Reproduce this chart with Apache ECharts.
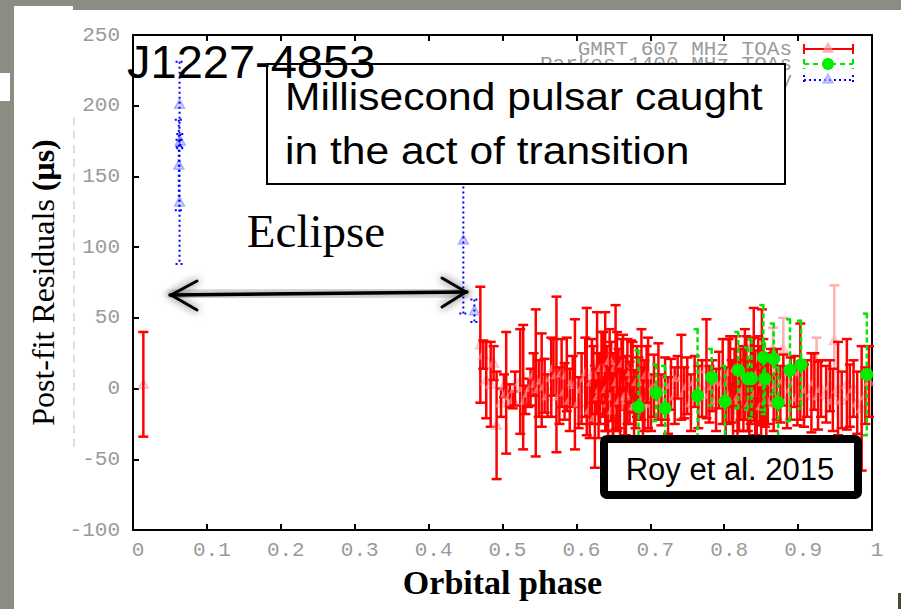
<!DOCTYPE html>
<html>
<head>
<meta charset="utf-8">
<title>J1227-4853 post-fit residuals</title>
<script src="https://cdn.jsdelivr.net/npm/echarts@6/dist/echarts.min.js"></script>
<style>
  html, body { margin: 0; padding: 0; width: 901px; height: 609px; overflow: hidden; background: #8b8d82; }
  #sheet { position: absolute; left: 14px; top: 10px; width: 887px; height: 599px; background: #ffffff; }
  #tab { position: absolute; left: 14px; top: 6px; width: 59px; height: 10px; background: #ffffff; }
  #edge { position: absolute; left: 0; top: 73px; width: 10px; height: 28px; background: #ffffff; }
  #corner { position: absolute; left: 898px; top: 593px; width: 3px; height: 16px; background: #4b4a33; }
  #chart { position: absolute; left: 0; top: 0; width: 901px; height: 609px; }
</style>
</head>
<body>
<div id="sheet"></div>
<div id="tab"></div>
<div id="edge"></div>
<div id="corner"></div>
<div id="chart"></div>
<script>
// GMRT 607 MHz TOAs: orbital phase, residual (us), 1-sigma error (us)
const gmrtPhase = [0.014,
  0.470, 0.474, 0.478, 0.484, 0.488, 0.492, 0.498, 0.502, 0.505, 0.510, 0.514, 0.517, 0.524, 0.528, 0.531,
  0.535, 0.538, 0.542, 0.545, 0.549, 0.553, 0.557, 0.561, 0.566, 0.569, 0.573, 0.577, 0.580, 0.584, 0.587,
  0.591, 0.595, 0.598, 0.603, 0.607, 0.612, 0.614, 0.618, 0.621, 0.625, 0.628, 0.632, 0.636, 0.639, 0.643,
  0.647, 0.650, 0.653, 0.657, 0.661, 0.665, 0.669, 0.672, 0.676, 0.680, 0.684, 0.688, 0.692, 0.697, 0.701,
  0.705, 0.711, 0.715, 0.720, 0.724, 0.728, 0.733, 0.737, 0.742, 0.746, 0.750, 0.755, 0.760, 0.765, 0.770,
  0.776, 0.780, 0.784, 0.789, 0.793, 0.798, 0.802, 0.806, 0.810, 0.814, 0.818, 0.822, 0.828, 0.832, 0.836,
  0.840, 0.844, 0.848, 0.851, 0.855, 0.859, 0.863, 0.867, 0.871, 0.876, 0.880, 0.885, 0.890, 0.895, 0.899,
  0.903, 0.908, 0.912, 0.918, 0.922, 0.927, 0.931, 0.938, 0.943, 0.947, 0.954, 0.959, 0.966, 0.970, 0.975,
  0.980, 0.986, 0.991, 0.996,
  0.623, 0.630, 0.634, 0.641, 0.645, 0.649, 0.655, 0.659, 0.663, 0.667, 0.674, 0.678, 0.682, 0.690, 0.695,
  0.808, 0.812, 0.816, 0.820, 0.826, 0.830, 0.834, 0.838, 0.842, 0.846, 0.850, 0.853, 0.857];
const gmrtResidual = [3,
  31, 24, 6, 3, 18, -26, -10, 2, -3, -5, -8, 0, 5, 1, -8,
  -3, 1, 10, 4, 0, 6, 2, -5, 8, 15, 10, -5, 11, -2, 10,
  -8, 5, 3, -10, 0, 8, 12, -15, 5, -20, 18, 0, 10, 12, -10,
  5, -5, 15, 0, 10, -12, 5, -3, 8, -8, 0, 10, -5, 4, -10,
  2, 5, -8, 0, -12, 3, -5, 8, 8, -3, 2, -10, 5, -6, 0,
  14, -4, 2, -8, 6, 5, -10, 5, -2, 8, -15, 3, 10, -5, 5,
  17, -8, 2, 16, -5, 0, 8, -10, 3, -4, 6, -8, 0, 5, -6,
  12, -5, 0, -3, 5, -5, 0, -4, 2, -8, 0, -8, 3, -5, 0,
  -10, -14, -5, 5,
  10, -5, 15, 0, 20, -15, 5, -8, 18, -5, 12, -12, 5, -10, 10,
  12, -8, 15, -5, 0, 12, -10, 8, -3, 12, -12, 5, -8];
const gmrtError = [37,
  41, 10, 27, 30, 12, 38, 10, 8, 43, 8, 6, 12, 37, 44, 10,
  10, 13, 15, 52, 20, 33, 19, 15, 28, 20, 55, 20, 24, 20, 26,
  22, 18, 46, 18, 25, 28, 45, 20, 30, 36, 36, 25, 30, 42, 25,
  28, 30, 44, 28, 25, 25, 30, 22, 25, 20, 22, 32, 25, 32, 20,
  22, 27, 18, 22, 20, 18, 20, 15, 30, 18, 20, 20, 18, 22, 20,
  35, 20, 18, 22, 20, 30, 25, 30, 22, 20, 20, 25, 32, 25, 30,
  40, 25, 28, 40, 22, 25, 20, 20, 25, 20, 18, 20, 22, 18, 20,
  34, 22, 20, 28, 20, 24, 20, 20, 18, 22, 33, 20, 32, 22, 20,
  22, 44, 20, 25,
  20, 30, 25, 30, 22, 25, 35, 30, 20, 28, 22, 25, 25, 25, 20,
  25, 28, 22, 25, 30, 25, 25, 28, 30, 25, 25, 30, 28];

// Earlier GMRT 607 MHz TOAs, drawn faded
const gmrtEarlyPhase = [0.866, 0.880, 0.925, 0.949];
const gmrtEarlyResidual = [28, 28, 18, 34];
const gmrtEarlyError = [15, 22, 18, 39];

// Parkes 1400 MHz TOAs
const parkesPhase = [0.684, 0.708, 0.720, 0.764, 0.783, 0.801, 0.819, 0.832, 0.837, 0.853, 0.855, 0.867, 0.873, 0.889, 0.904, 0.993];
const parkesResidual = [-13, -3, -14, -5, 8, -9, 13, 7, 7, 22, 7, 21, -10, 13, 17, 10];
const parkesError = [40, 20, 30, 47, 20, 25, 27, 22, 28, 37, 25, 25, 25, 36, 31, 43];

// TOAs at the eclipse boundary
const boundaryPhase = [0.063, 0.064, 0.062, 0.063, 0.447, 0.462];
const boundaryResidual = [201, 175, 158, 132, 105, 55];
const boundaryError = [30, 5, 32, 44, 52, 8];

// Axis ticks
const phaseTicks = [0, 0.1, 0.2, 0.3, 0.4, 0.5, 0.6, 0.7, 0.8, 0.9, 1];
const residualTicks = [-100, -50, 0, 50, 100, 150, 200, 250];

const legendLabels = ['GMRT 607 MHz TOAs', 'Parkes 1400 MHz TOAs', 'Eclipse boundary'];

function zip3(a, b, c) { return a.map((v, i) => [v, b[i], c[i]]); }

// Error bar with caps and an optional marker, in the gnuplot style
function errorBars(o) {
  return function (params, api) {
    const p = api.value(0), v = api.value(1), e = api.value(2);
    const c = api.coord([p, v]);
    const top = api.coord([p, v + e])[1];
    const bot = api.coord([p, v - e])[1];
    const x = c[0], y = c[1], w = o.cap;
    const ls = { stroke: o.bar, lineWidth: o.width, lineDash: o.dash || null, fill: null };
    const kids = [];
    if (o.marker === 'triangle') {
      kids.push({ type: 'polygon', shape: { points: [[x, y - 5], [x - 5, y + 4], [x + 5, y + 4]] },
        style: { fill: o.fill, stroke: o.edge, lineWidth: 1.5 } });
    }
    kids.push({ type: 'line', shape: { x1: x, y1: top, x2: x, y2: bot }, style: ls });
    kids.push({ type: 'line', shape: { x1: x - w, y1: top, x2: x + w, y2: top }, style: ls });
    kids.push({ type: 'line', shape: { x1: x - w, y1: bot, x2: x + w, y2: bot }, style: ls });
    if (o.marker === 'circle') {
      kids.push({ type: 'circle', shape: { cx: x, cy: y, r: o.r }, style: { fill: o.fill } });
    }
    return { type: 'group', children: kids };
  };
}

const tickFont = { fontFamily: '"Liberation Mono", "DejaVu Sans Mono", monospace', fontSize: 21, color: '#9a9a9a' };
const axisBlack = { show: true, onZero: false, lineStyle: { color: '#000', width: 2 } };
const innerTicks = { show: true, inside: true, length: 6, lineStyle: { color: '#000', width: 2 } };

const chart = echarts.init(document.getElementById('chart'), null, { renderer: 'svg' });

// Legend samples drawn at the top right, gnuplot style
const legendRows = [49, 64, 80];
const legendGraphics = [];
const sampleStyles = [
  { stroke: '#ff0000', dash: null },
  { stroke: '#00e600', dash: [5, 4] },
  { stroke: '#0000ff', dash: [2, 3] }
];
legendLabels.forEach((label, i) => {
  const y = legendRows[i], s = sampleStyles[i];
  legendGraphics.push({ type: 'text', z: 20, style: { text: label, x: 792, y: y, align: 'right', verticalAlign: 'middle',
    fontFamily: tickFont.fontFamily, fontSize: 21, fill: '#9a9a9a' } });
  const ls = { stroke: s.stroke, lineWidth: 2, lineDash: s.dash };
  legendGraphics.push({ type: 'line', z: 20, shape: { x1: 804, y1: y, x2: 853, y2: y }, style: ls });
  legendGraphics.push({ type: 'line', z: 20, shape: { x1: 804, y1: y - 5, x2: 804, y2: y + 5 }, style: ls });
  legendGraphics.push({ type: 'line', z: 20, shape: { x1: 853, y1: y - 5, x2: 853, y2: y + 5 }, style: ls });
  if (i === 1) {
    legendGraphics.push({ type: 'circle', z: 21, shape: { cx: 828, cy: y, r: 6 }, style: { fill: '#00ee00' } });
  } else {
    const f = i === 0 ? 'rgba(255,150,150,0.6)' : 'rgba(150,160,255,0.6)';
    legendGraphics.push({ type: 'polygon', z: 21, shape: { points: [[828, y - 6], [823, y + 3], [833, y + 3]] },
      style: { fill: f, stroke: f, lineWidth: 1.5 } });
  }
});

const arrowStyle = { stroke: '#000', lineWidth: 3, fill: null, shadowBlur: 8, shadowColor: 'rgba(0,0,0,0.75)', lineCap: 'round', lineJoin: 'round' };

chart.setOption({
  backgroundColor: 'transparent',
  animation: false,
  grid: { left: 133, right: 29, top: 35, bottom: 79, outerBoundsMode: 'none', containLabel: false },
  xAxis: [{
    type: 'value', position: 'bottom', min: 0, max: 1, interval: 0.1,
    name: 'Orbital phase', nameLocation: 'middle', nameGap: 35,
    nameTextStyle: { fontFamily: '"Liberation Serif", "DejaVu Serif", serif', fontWeight: 'bold', fontSize: 34, color: '#000' },
    axisLine: axisBlack,
    axisTick: innerTicks,
    axisLabel: Object.assign({ margin: 10, padding: [0, 0, 0, 10], showMinLabel: true, showMaxLabel: true,
      formatter: v => phaseTicks.includes(+v.toFixed(1)) ? (v === 0 ? '0' : v === 1 ? '1' : v.toFixed(1)) : '' }, tickFont),
    splitLine: { show: false }
  }, {
    type: 'value', position: 'top', min: 0, max: 1, interval: 0.1,
    axisLine: axisBlack,
    axisTick: innerTicks,
    axisLabel: { show: false },
    splitLine: { show: false }
  }],
  yAxis: [{
    type: 'value', position: 'left', min: -100, max: 250, interval: 50,
    name: '{n|Post-fit Residuals }{b|(μs)}', nameLocation: 'middle', nameGap: 71, nameRotate: 90,
    nameTextStyle: {
      rich: {
        n: { fontFamily: '"Liberation Serif", "DejaVu Serif", serif', fontSize: 32, color: '#000' },
        b: { fontFamily: '"Liberation Serif", "DejaVu Serif", serif', fontSize: 32, fontWeight: 'bold', color: '#000' }
      }
    },
    axisLine: axisBlack,
    axisTick: innerTicks,
    axisLabel: Object.assign({ margin: 13, showMinLabel: true, showMaxLabel: true,
      formatter: v => residualTicks.includes(v) ? String(v) : '' }, tickFont),
    splitLine: { show: false }
  }, {
    type: 'value', position: 'right', min: -100, max: 250, interval: 50,
    axisLine: axisBlack, axisTick: { show: false }, axisLabel: { show: false }, splitLine: { show: false }
  }],
  series: [{
    name: legendLabels[0], type: 'custom', z: 3, silent: true,
    data: zip3(gmrtEarlyPhase, gmrtEarlyResidual, gmrtEarlyError),
    encode: { x: 0, y: 1 },
    renderItem: errorBars({ bar: '#ffb0b0', width: 2.5, cap: 5, marker: 'triangle', fill: 'rgba(255,180,180,0.45)', edge: 'rgba(255,150,150,0.5)' })
  }, {
    name: legendLabels[0], type: 'custom', z: 4, silent: true,
    data: zip3(gmrtPhase, gmrtResidual, gmrtError),
    encode: { x: 0, y: 1 },
    renderItem: errorBars({ bar: '#ff0000', width: 2.5, cap: 5, marker: 'triangle', fill: 'rgba(255,180,180,0.45)', edge: 'rgba(255,150,150,0.5)' })
  }, {
    name: legendLabels[1], type: 'custom', z: 5, silent: true,
    data: zip3(parkesPhase, parkesResidual, parkesError),
    encode: { x: 0, y: 1 },
    renderItem: errorBars({ bar: '#00e600', width: 2.5, cap: 4, dash: [5, 3], marker: 'circle', r: 6.5, fill: '#00ee00' })
  }, {
    name: legendLabels[2], type: 'custom', z: 5, silent: true,
    data: zip3(boundaryPhase, boundaryResidual, boundaryError),
    encode: { x: 0, y: 1 },
    renderItem: errorBars({ bar: '#0000ff', width: 2, cap: 4, dash: [2, 3], marker: 'triangle', fill: 'rgba(160,170,255,0.5)', edge: 'rgba(140,150,255,0.7)' })
  }],
  graphic: [
    // faint dashed guide on the slide
    { type: 'line', z: 1, shape: { x1: 74, y1: 117, x2: 74, y2: 448 }, style: { stroke: '#d2d2d2', lineWidth: 1.5, lineDash: [8, 6] } },
    ...legendGraphics,
    // eclipse span
    { type: 'polyline', z: 50, shape: { points: [[170, 295], [467, 292]] }, style: Object.assign({}, arrowStyle, { lineWidth: 3.5 }) },
    { type: 'polyline', z: 50, shape: { points: [[197, 281], [171, 295], [197, 310]] }, style: arrowStyle },
    { type: 'polyline', z: 50, shape: { points: [[442, 278], [466, 292], [442, 307]] }, style: arrowStyle },
    { type: 'text', z: 50, style: { text: 'Eclipse', x: 316, y: 231, align: 'center', verticalAlign: 'middle',
      fontFamily: '"Liberation Serif", "DejaVu Serif", serif', fontSize: 47, fill: '#000' } },
    // headline box
    { type: 'rect', z: 100, shape: { x: 267, y: 64, width: 518, height: 120 }, style: { fill: '#fff', stroke: '#000', lineWidth: 2 } },
    { type: 'text', z: 101, x: 285, y: 97, scaleX: 1.12, style: { text: 'Millisecond pulsar caught', x: 0, y: 0, align: 'left', verticalAlign: 'middle',
      fontFamily: '"Liberation Sans", Arial, sans-serif', fontSize: 38, fill: '#000' } },
    { type: 'text', z: 101, x: 285, y: 151, scaleX: 1.12, style: { text: 'in the act of transition', x: 0, y: 0, align: 'left', verticalAlign: 'middle',
      fontFamily: '"Liberation Sans", Arial, sans-serif', fontSize: 38, fill: '#000' } },
    { type: 'text', z: 102, style: { text: 'J1227-4853', x: 127, y: 61, align: 'left', verticalAlign: 'middle',
      fontFamily: '"Liberation Sans", Arial, sans-serif', fontSize: 47, fill: '#000' } },
    // reference box
    { type: 'rect', z: 100, shape: { x: 604, y: 439, width: 254, height: 56, r: 3 }, style: { fill: '#fff', stroke: '#000', lineWidth: 8 } },
    { type: 'text', z: 101, style: { text: 'Roy et al. 2015', x: 730, y: 469, align: 'center', verticalAlign: 'middle',
      fontFamily: '"Liberation Sans", Arial, sans-serif', fontSize: 31, fill: '#000' } }
  ]
});
</script>
</body>
</html>
